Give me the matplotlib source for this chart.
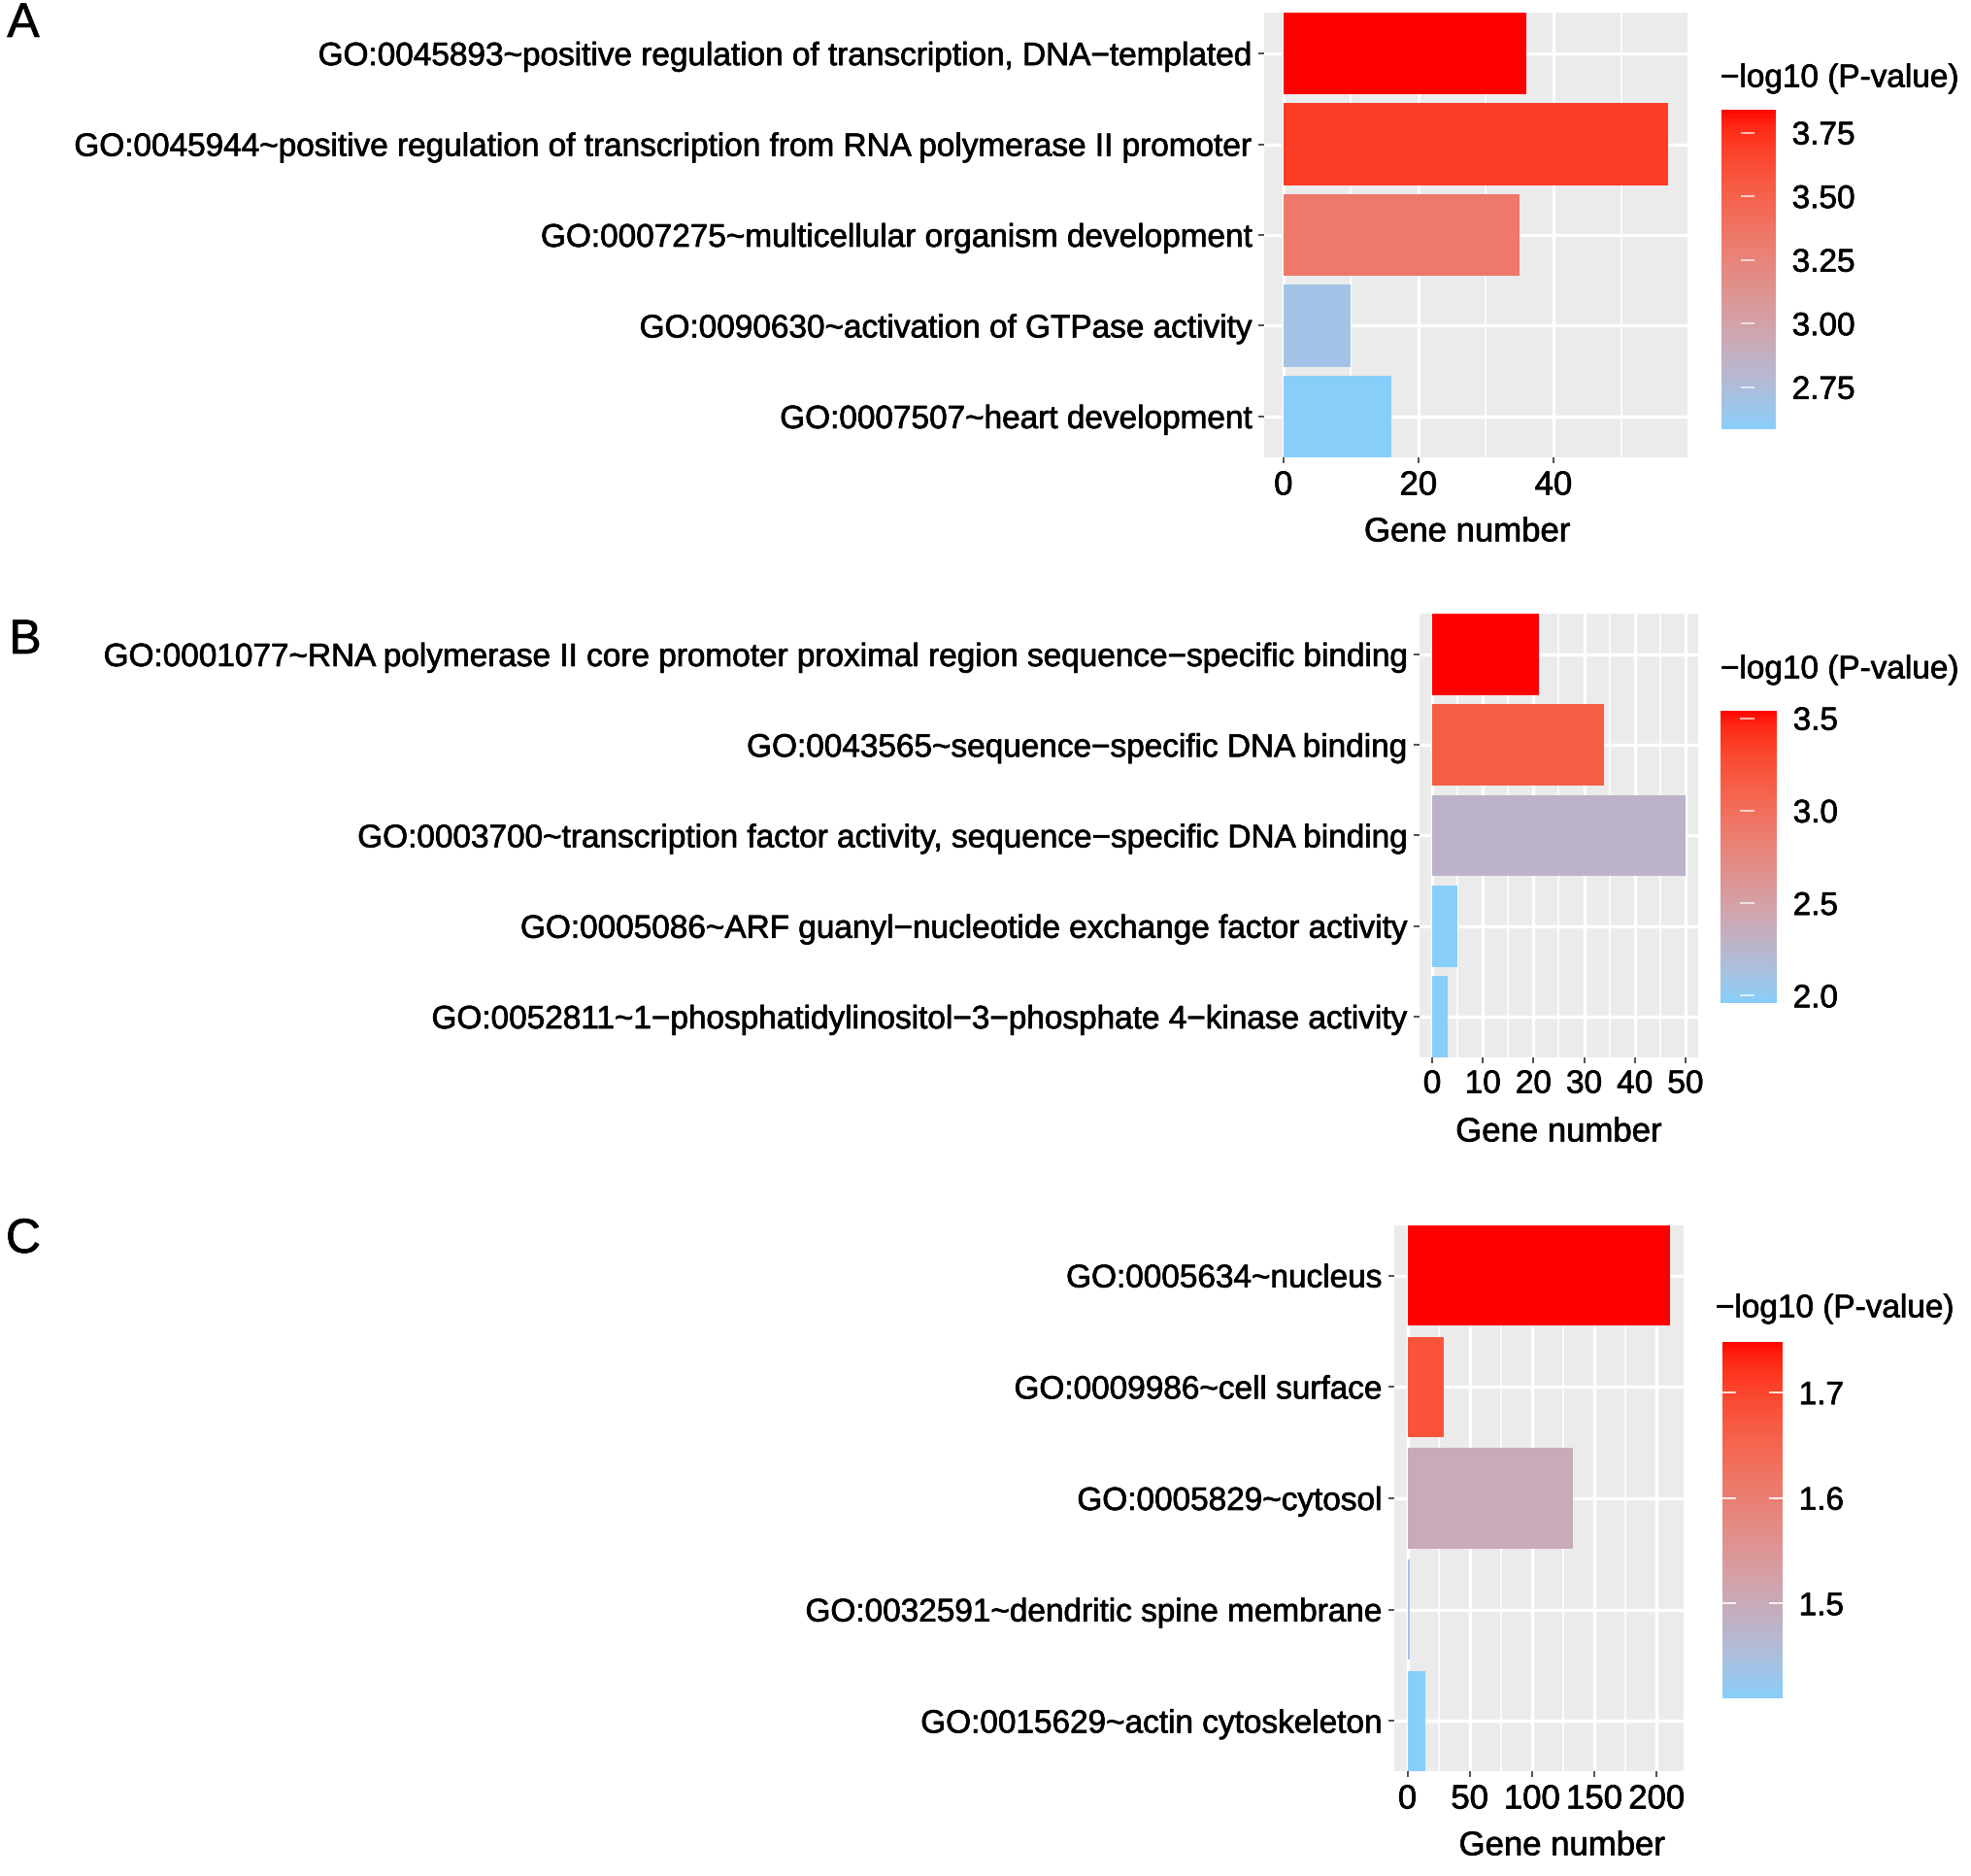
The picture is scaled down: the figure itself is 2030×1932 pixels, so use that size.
import numpy as np
import matplotlib
matplotlib.use("Agg")
import matplotlib.pyplot as plt
import matplotlib.patheffects as pe
from matplotlib.colors import ListedColormap, Normalize
from matplotlib.cm import ScalarMappable

plt.rcParams['font.family'] = ['Liberation Sans', 'DejaVu Sans']

# Data
terms_a = ["GO:0045893~positive regulation of transcription, DNA\u2212templated",
           "GO:0045944~positive regulation of transcription from RNA polymerase II promoter",
           "GO:0007275~multicellular organism development",
           "GO:0090630~activation of GTPase activity",
           "GO:0007507~heart development"]
count_a = [36, 57, 35, 10, 16]
logp_a = [3.84, 3.70, 3.34, 2.69, 2.585]

terms_b = ["GO:0001077~RNA polymerase II core promoter proximal region sequence\u2212specific binding",
           "GO:0043565~sequence\u2212specific DNA binding",
           "GO:0003700~transcription factor activity, sequence\u2212specific DNA binding",
           "GO:0005086~ARF guanyl\u2212nucleotide exchange factor activity",
           "GO:0052811~1\u2212phosphatidylinositol\u22123\u2212phosphate 4\u2212kinase activity"]
count_b = [21, 34, 50, 5, 3]
logp_b = [3.54, 3.14, 2.28, 1.96, 1.97]

terms_c = ["GO:0005634~nucleus",
           "GO:0009986~cell surface",
           "GO:0005829~cytosol",
           "GO:0032591~dendritic spine membrane",
           "GO:0015629~actin cytoskeleton"]
count_c = [211, 29, 133, 2, 14]
logp_c = [1.748, 1.68, 1.50, 1.44, 1.41]

xticks_a = [0, 20, 40]
xticks_b = [0, 10, 20, 30, 40, 50]
xticks_c = [0, 50, 100, 150, 200]
cticks_a = [2.75, 3.00, 3.25, 3.50, 3.75]
cticks_b = [2.0, 2.5, 3.0, 3.5]
cticks_c = [1.5, 1.6, 1.7]

# slightly heavier text, like the original export
thick = [pe.withStroke(linewidth=0.5, foreground='black')]


# lab gradient like ggplot's scale_fill_gradient(low, high)
def to_lab(rgb):
    c = np.asarray(rgb, dtype=float)
    lin = np.where(c <= 0.04045, c / 12.92, ((c + 0.055) / 1.055) ** 2.4)
    M = np.array([[0.4124, 0.3576, 0.1805], [0.2126, 0.7152, 0.0722], [0.0193, 0.1192, 0.9505]])
    xyz = M @ lin / np.array([0.95047, 1.0, 1.08883])
    f = np.where(xyz > 0.008856, np.cbrt(xyz), 7.787 * xyz + 16 / 116)
    return np.array([116 * f[1] - 16, 500 * (f[0] - f[1]), 200 * (f[1] - f[2])])


def from_lab(lab):
    L, a, b = lab
    fy = (L + 16) / 116
    fx = fy + a / 500
    fz = fy - b / 200
    f = np.array([fx, fy, fz])
    xyz = np.where(f ** 3 > 0.008856, f ** 3, (f - 16 / 116) / 7.787) * np.array([0.95047, 1.0, 1.08883])
    Minv = np.linalg.inv(np.array([[0.4124, 0.3576, 0.1805], [0.2126, 0.7152, 0.0722], [0.0193, 0.1192, 0.9505]]))
    lin = np.clip(Minv @ xyz, 0, 1)
    c = np.where(lin <= 0.0031308, 12.92 * lin, 1.055 * lin ** (1 / 2.4) - 0.055)
    return np.clip(c, 0, 1)


low = to_lab([0x87 / 255, 0xCE / 255, 0xFA / 255])
high = to_lab([1.0, 0.0, 0.0])
cmap = ListedColormap([from_lab(low + (high - low) * t) for t in np.linspace(0, 1, 256)])

fig = plt.figure(figsize=(20.31, 19.32), dpi=100)
W, H = 2031.0, 1932.0


def box(x0, y0, x1, y1):
    return [x0 / W, 1 - y1 / H, (x1 - x0) / W, (y1 - y0) / H]


def panel(axbox, cbox, terms, counts, logp, xticks, cticks, cfmt, title_xy, letter, letter_xy,
          dash_mid, xlab_x, tick_size):
    ax = fig.add_axes(box(*axbox))
    norm = Normalize(vmin=min(logp), vmax=max(logp))
    y = np.arange(len(terms))[::-1]
    ax.set_facecolor('#EBEBEB')
    ax.barh(y, counts, height=0.9, color=cmap(norm(logp)), zorder=3)
    ax.set_yticks(y)
    ax.set_yticklabels(terms, fontsize=24)
    ax.set_ylim(-0.45, len(terms) - 0.55)
    top = max(counts)
    ax.set_xlim(-0.05 * top, 1.05 * top)
    ax.set_xticks(xticks)
    ax.set_xticklabels([str(t) for t in xticks], fontsize=tick_size)
    minors = [t + (xticks[1] - xticks[0]) / 2 for t in xticks]
    minors = [m for m in minors if m < 1.05 * top]
    ax.set_xticks(minors, minor=True)
    ax.grid(which='major', color='white', linewidth=2.4, zorder=1)
    ax.grid(which='minor', axis='x', color='white', linewidth=1.2, zorder=1)
    ax.tick_params(which='major', length=4, width=1.2, color='#333333', pad=5)
    ax.tick_params(which='minor', length=0)
    ax.set_xlabel('Gene number', fontsize=25)
    ax.xaxis.set_label_coords(xlab_x, -0.13 * 465 / (axbox[3] - axbox[1]))
    for t in ax.get_xticklabels() + ax.get_yticklabels() + [ax.xaxis.label]:
        t.set_path_effects(thick)
    for s in ax.spines.values():
        s.set_visible(False)
    ax.set_axisbelow(True)

    cax = fig.add_axes(box(*cbox))
    cb = fig.colorbar(ScalarMappable(norm=norm, cmap=cmap), cax=cax)
    cb.outline.set_visible(False)
    cb.set_ticks(cticks)
    cb.set_ticklabels([cfmt % t for t in cticks])
    cax.tick_params(length=0, labelsize=24, pad=12)
    for t in cax.get_yticklabels():
        t.set_path_effects(thick)
    if dash_mid:
        cax.hlines(cticks, 0.35, 0.6, colors='white', linewidth=1.2, alpha=0.8)
    else:
        cax.hlines(cticks, 0.0, 0.22, colors='white', linewidth=1.2)
        cax.hlines(cticks, 0.78, 1.0, colors='white', linewidth=1.2)
    fig.text(title_xy[0] / W, 1 - title_xy[1] / H, '\u2212log10 (P-value)', fontsize=24,
             ha='left', va='center', path_effects=thick)
    fig.text(letter_xy[0] / W, 1 - letter_xy[1] / H, letter, fontsize=36,
             ha='center', va='center', path_effects=thick)


panel((1302, 13, 1738, 471), (1773, 113, 1829, 442), terms_a, count_a, logp_a,
      xticks_a, cticks_a, '%.2f', (1772, 81), 'A', (24, 25), True, 0.48, 25)
panel((1462, 632, 1749, 1089), (1772, 732, 1830, 1033), terms_b, count_b, logp_b,
      xticks_b, cticks_b, '%.1f', (1772, 690), 'B', (26, 660), True, 0.5, 24)
panel((1436, 1262, 1734, 1824), (1774, 1382, 1836, 1749), terms_c, count_c, logp_c,
      xticks_c, cticks_c, '%.1f', (1767, 1348), 'C', (24, 1277), False, 0.58, 25)

fig.savefig('out.png', dpi=100)
